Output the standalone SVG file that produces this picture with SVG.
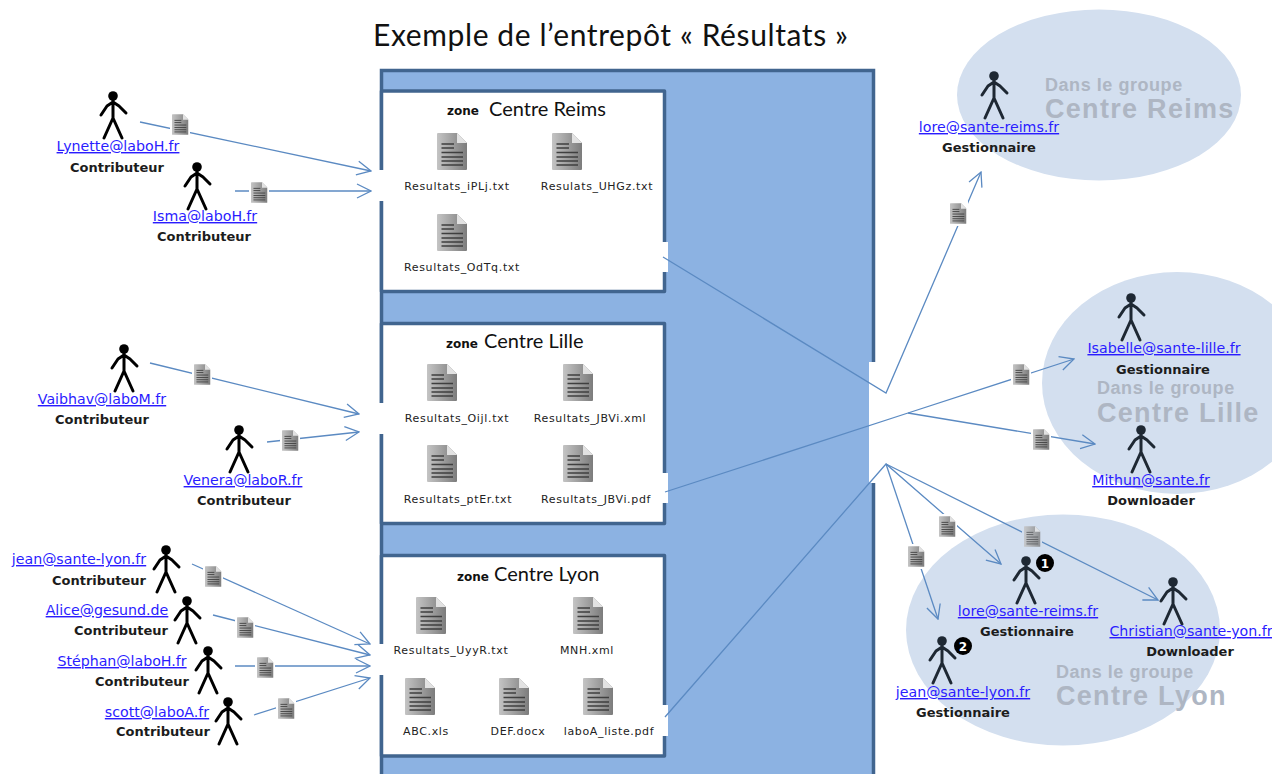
<svg xmlns="http://www.w3.org/2000/svg" width="1272" height="774" viewBox="0 0 1272 774">
<style>
text{font-family:"DejaVu Sans","Liberation Sans",sans-serif}
.mail{font-size:14.200px;fill:#2a1cff;text-decoration:underline;text-anchor:middle}
.role{font-size:13px;font-weight:700;fill:#1c1c1c;text-anchor:middle}
.file{font-size:11px;letter-spacing:.65px;fill:#222;text-anchor:middle}
.zl{font-size:12px;font-weight:700;fill:#111}
.zn{font-family:Lato,"Liberation Sans",sans-serif;font-size:20px;fill:#111}
.g1{font-family:"Liberation Sans",Arial,sans-serif;font-size:18px;letter-spacing:.55px;font-weight:700;fill:#aeb6c3}
.g2{font-family:"Liberation Sans",Arial,sans-serif;font-size:27px;letter-spacing:1.300px;font-weight:700;fill:#aeb6c3}
.cn{fill:none;stroke:#5b8ac2;stroke-width:1.3;stroke-linejoin:miter}
.arrow{marker-end:url(#open)}
.zone{fill:#fff;stroke:#41658f;stroke-width:3.5;stroke-linejoin:round}
.gap{fill:#fff}
.ell{fill:#d3dfef}
.badge{fill:#000}
.bt{font-size:12px;font-weight:700;fill:#fff;text-anchor:middle}
</style>
<defs>
<marker id="open" viewBox="0 0 16 16" markerWidth="16" markerHeight="16" refX="15" refY="8" orient="auto" markerUnits="userSpaceOnUse">
<path d="M1 1 L15 8 L1 15" fill="none" stroke="#5b8ac2" stroke-width="1.3"/>
</marker>
<linearGradient id="dg" x1="0" y1="0" x2="1" y2="0">
<stop offset="0" stop-color="#c4c4c4"/><stop offset="1" stop-color="#7c7c7c"/>
</linearGradient>
<symbol id="doc" viewBox="0 0 30 37">
<path d="M0 1 Q0 0 1 0 H20 L30 10 V36 Q30 37 29 37 H1 Q0 37 0 36 Z" fill="url(#dg)"/>
<path d="M20 0 V10 H30 Z" fill="#e2e2e2"/>
<path d="M4.5 11 H17 M4.5 15 H17 M4.5 19.500 H26 M4.5 24 H26 M4.5 28 H26 M4.500 32 H26" stroke="#3f3f3f" stroke-width="1.600" fill="none"/>
</symbol>
<symbol id="docH" viewBox="0 0 20 25">
<rect width="20" height="25" fill="#fff"/>
<use href="#doc" x="2" y="2" width="16.500" height="21"/>
</symbol>
<symbol id="per" viewBox="-14 -6 28 50" overflow="visible">
<circle cx="0" cy="0" r="4.800" fill="currentColor"/>
<path d="M0 4 V22 M-12 19 L-6 10 L0 6 L6 10 L13 17 M-9 42 L0 22 L9 42" fill="none" stroke="currentColor" stroke-width="3" stroke-linecap="round" stroke-linejoin="round"/>
</symbol>
</defs>
<rect width="1272" height="774" fill="#fff"/>
<text id="title" x="373" y="46" font-size="30" style="font-family:Lato,'Liberation Sans',sans-serif" fill="#111" textLength="475">Exemple de l’entrepôt « Résultats »</text>

<g id="groupes">
<ellipse class="ell" cx="1099" cy="95" rx="142" ry="85.500"/>
<ellipse class="ell" cx="1177" cy="383" rx="135" ry="111"/>
<ellipse class="ell" cx="1063" cy="630" rx="157" ry="115.500"/>
</g>

<g id="entrepot">
<rect x="381.500" y="70.500" width="492" height="730" fill="#8cb2e2" stroke="#41658f" stroke-width="3.500"/>
<rect class="gap" x="869" y="362" width="12" height="121"/>
</g>

<g id="zone-reims">
<rect class="zone" x="381.500" y="91" width="283" height="200.500"/>
<rect class="gap" x="376" y="170" width="9" height="31"/>
<rect class="gap" x="660" y="242" width="8" height="30"/>
<text x="447" y="115" class="zl">zone</text><text x="489" y="116" class="zn">Centre Reims</text>
<use href="#doc" x="437" y="133" width="30" height="37"/><use href="#doc" x="552" y="133" width="30" height="37"/><use href="#doc" x="437" y="214" width="30" height="37"/>
<text x="457" y="190" class="file">Resultats_iPLj.txt</text><text x="597" y="190" class="file">Resulats_UHGz.txt</text><text x="462" y="271" class="file">Resultats_OdTq.txt</text>
</g>

<g id="zone-lille">
<rect class="zone" x="381.500" y="323.500" width="283" height="200"/>
<rect class="gap" x="376" y="403" width="9" height="31"/>
<rect class="gap" x="660" y="473" width="8" height="30"/>
<text x="446" y="348" class="zl">zone</text><text x="484" y="348" class="zn">Centre Lille</text>
<use href="#doc" x="427" y="364" width="30" height="37"/><use href="#doc" x="563" y="364" width="30" height="37"/><use href="#doc" x="427" y="445" width="30" height="37"/><use href="#doc" x="563" y="445" width="30" height="37"/>
<text x="457" y="422" class="file">Resultats_Oijl.txt</text><text x="590" y="422" class="file">Resultats_JBVi.xml</text><text x="458" y="503" class="file">Resultats_ptEr.txt</text><text x="596" y="503" class="file">Resultats_JBVi.pdf</text>
</g>

<g id="zone-lyon">
<rect class="zone" x="381.500" y="555.500" width="283" height="200.500"/>
<rect class="gap" x="376" y="644" width="9" height="31"/>
<rect class="gap" x="660" y="705" width="8" height="31"/>
<text x="457" y="581" class="zl">zone</text><text x="494" y="581" class="zn">Centre Lyon</text>
<use href="#doc" x="416" y="597" width="30" height="37"/><use href="#doc" x="573" y="597" width="30" height="37"/><use href="#doc" x="405" y="678" width="30" height="37"/><use href="#doc" x="499" y="678" width="30" height="37"/><use href="#doc" x="583" y="678" width="30" height="37"/>
<text x="451" y="654" class="file">Resultats_UyyR.txt</text><text x="587" y="654" class="file">MNH.xml</text><text x="426" y="735" class="file">ABC.xls</text><text x="518" y="735" class="file">DEF.docx</text><text x="609" y="735" class="file">laboA_liste.pdf</text>
</g>

<g id="connectors">
<path class="cn arrow" d="M140 122 L371 171"/>
<path class="cn arrow" d="M235 191 L371 191"/>
<path class="cn arrow" d="M150 363 L359 414"/>
<path class="cn arrow" d="M267 442 L359 432"/>
<path class="cn arrow" d="M192 564 L370 644"/>
<path class="cn arrow" d="M213 615 L370 655"/>
<path class="cn arrow" d="M235 666 L370 666"/>
<path class="cn arrow" d="M254 715 L370 678"/>
<path class="cn arrow" d="M663 257 L886 393 L981 172"/>
<path class="cn arrow" d="M665 492 L908 413 L1074 359"/>
<path class="cn arrow" d="M908 413 L1095 444"/>
<path class="cn arrow" d="M665 717 L886 464 L1001 564"/>
<path class="cn arrow" d="M886 464 L938 619"/>
<path class="cn arrow" d="M886 464 L1158 600"/>
</g>

<g id="docs-flux">
<use href="#docH" x="170" y="112" width="20" height="25"/>
<use href="#docH" x="249" y="180" width="20" height="25"/>
<use href="#docH" x="192" y="362" width="20" height="25"/>
<use href="#docH" x="280" y="428" width="20" height="25"/>
<use href="#docH" x="203" y="564" width="20" height="25"/>
<use href="#docH" x="235" y="615" width="20" height="25"/>
<use href="#docH" x="255" y="655" width="20" height="25"/>
<use href="#docH" x="276" y="696" width="20" height="25"/>
<use href="#docH" x="948" y="201" width="20" height="25"/>
<use href="#docH" x="1011" y="362" width="20" height="25"/>
<use href="#docH" x="1031" y="427" width="20" height="25"/>
<use href="#docH" x="937" y="514" width="20" height="25"/>
<use href="#docH" x="906" y="544" width="20" height="25"/>
<rect x="1022" y="525" width="20" height="25" fill="#d3dfef"/>
<use href="#doc" x="1024" y="526" width="16.500" height="21" opacity=".8"/>
</g>

<g id="p-lynette" color="#000"><use href="#per" x="99" y="90" width="28" height="50"/><text x="118" y="151" class="mail">Lynette@laboH.fr</text><text x="117" y="172" class="role">Contributeur</text></g>
<g id="p-isma" color="#000"><use href="#per" x="183" y="161" width="28" height="50"/><text x="205" y="221" class="mail">Isma@laboH.fr</text><text x="204" y="241" class="role">Contributeur</text></g>
<g id="p-vaibhav" color="#000"><use href="#per" x="110" y="343" width="28" height="50"/><text x="102" y="404" class="mail">Vaibhav@laboM.fr</text><text x="102" y="424" class="role">Contributeur</text></g>
<g id="p-venera" color="#000"><use href="#per" x="225" y="424" width="28" height="50"/><text x="243" y="485" class="mail">Venera@laboR.fr</text><text x="244" y="505" class="role">Contributeur</text></g>
<g id="p-jean-c" color="#000"><use href="#per" x="152" y="544" width="28" height="50"/><text x="79" y="564" class="mail">jean@sante-lyon.fr</text><text x="99" y="585" class="role">Contributeur</text></g>
<g id="p-alice" color="#000"><use href="#per" x="173" y="595" width="28" height="50"/><text x="107" y="615" class="mail">Alice@gesund.de</text><text x="121" y="635" class="role">Contributeur</text></g>
<g id="p-stephan" color="#000"><use href="#per" x="194" y="645" width="28" height="50"/><text x="122" y="666" class="mail">Stéphan@laboH.fr</text><text x="142" y="686" class="role">Contributeur</text></g>
<g id="p-scott" color="#000"><use href="#per" x="214" y="696" width="28" height="50"/><text x="157" y="717" class="mail">scott@laboA.fr</text><text x="163" y="736" class="role">Contributeur</text></g>

<g id="p-lore-reims" color="#1e2833"><use href="#per" x="980" y="70" width="28" height="50"/><text x="989" y="132" class="mail">lore@sante-reims.fr</text><text x="989" y="152" class="role">Gestionnaire</text></g>
<g id="groupe-reims-t"><text x="1045" y="91" class="g1">Dans le groupe</text><text x="1045" y="118" class="g2">Centre Reims</text></g>
<g id="p-isabelle" color="#1e2833"><use href="#per" x="1117" y="292" width="28" height="50"/><text x="1164" y="353" class="mail">Isabelle@sante-lille.fr</text><text x="1163" y="374" class="role">Gestionnaire</text></g>
<g id="p-mithun" color="#1e2833"><use href="#per" x="1127" y="424" width="28" height="50"/><text x="1151" y="485" class="mail">Mithun@sante.fr</text><text x="1151" y="505" class="role">Downloader</text></g>
<g id="groupe-lille-t"><text x="1097" y="394" class="g1">Dans le groupe</text><text x="1097" y="422" class="g2">Centre Lille</text></g>
<g id="p-lore-lyon" color="#1e2833"><use href="#per" x="1012" y="555" width="28" height="50"/><text x="1028" y="616" class="mail">lore@sante-reims.fr</text><text x="1027" y="636" class="role">Gestionnaire</text><circle class="badge" cx="1045" cy="563" r="9"/><text x="1045" y="567.500" class="bt">1</text></g>
<g id="p-christian" color="#1e2833"><use href="#per" x="1159" y="576" width="28" height="50"/><text x="1191" y="636" class="mail">Christian@sante-yon.fr</text><text x="1190" y="656" class="role">Downloader</text></g>
<g id="p-jean-g" color="#1e2833"><use href="#per" x="928" y="635" width="28" height="50"/><text x="963" y="697" class="mail">jean@sante-lyon.fr</text><text x="963" y="717" class="role">Gestionnaire</text><circle class="badge" cx="963" cy="646" r="9"/><text x="963" y="650.500" class="bt">2</text></g>
<g id="groupe-lyon-t"><text x="1056" y="678" class="g1">Dans le groupe</text><text x="1056" y="705" class="g2">Centre Lyon</text></g>
</svg>
